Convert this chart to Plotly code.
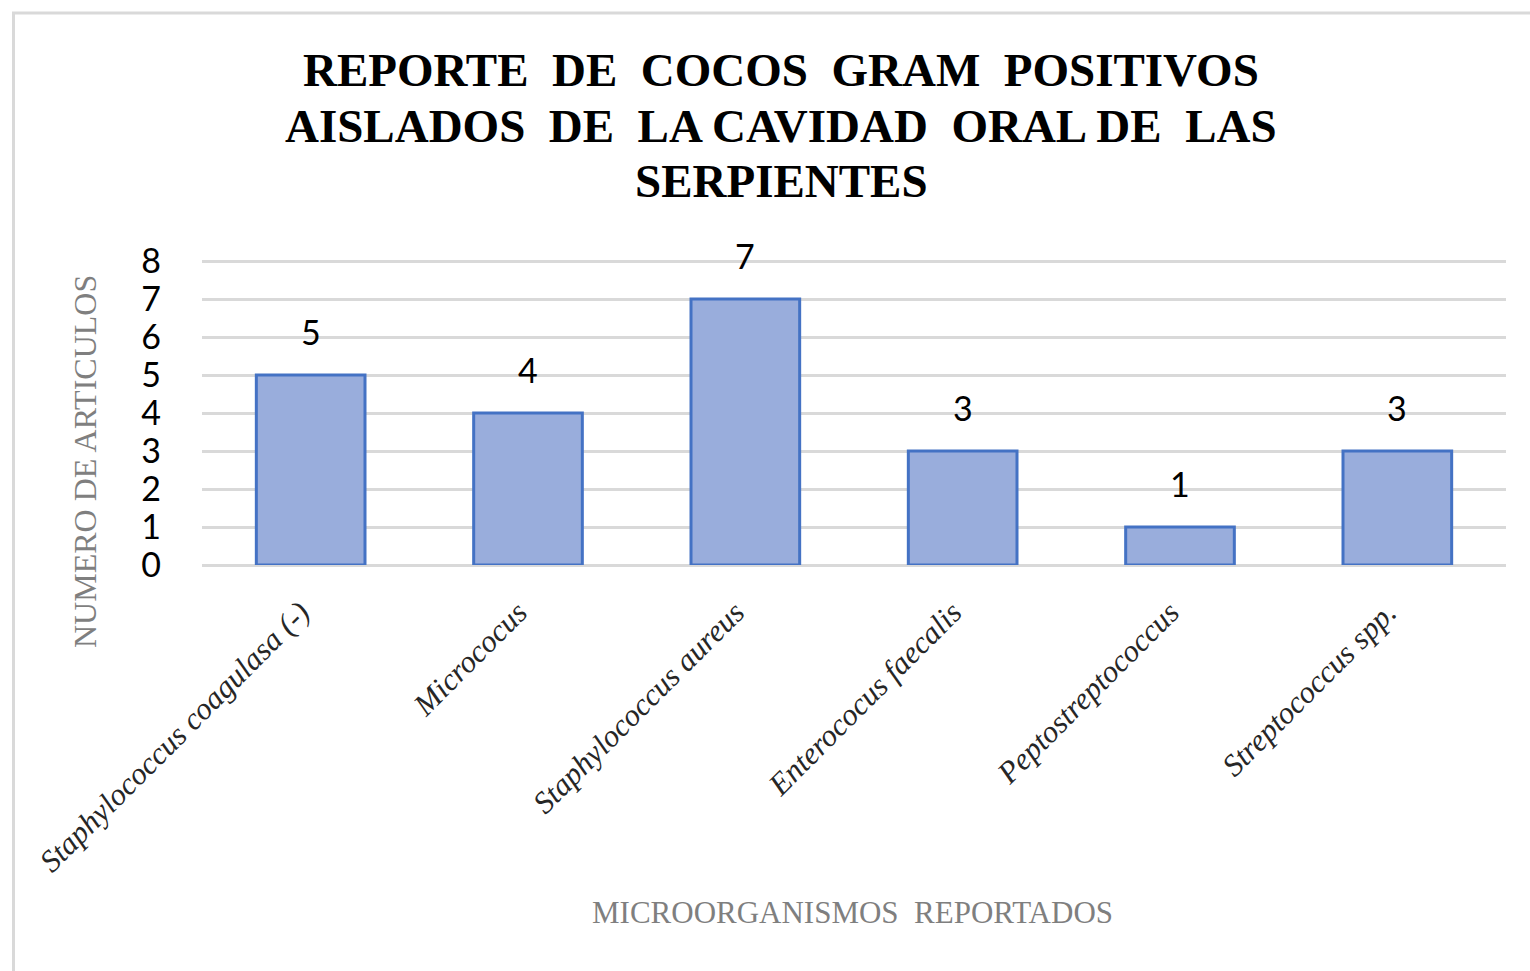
import plotly.graph_objects as go

categories = [
    "Staphylococcus coagulasa (-)",
    "Micrococus",
    "Staphylococcus aureus",
    "Enterococus faecalis",
    "Peptostreptococcus",
    "Streptococcus spp.",
]
counts = [5, 4, 7, 3, 1, 3]
y_ticks = [0, 1, 2, 3, 4, 5, 6, 7, 8]

title_lines = [
    "REPORTE  DE  COCOS  GRAM  POSITIVOS",
    "AISLADOS  DE  LA CAVIDAD  ORAL DE  LAS",
    "SERPIENTES",
]
y_title = "NUMERO DE ARTICULOS"
x_title = "MICROORGANISMOS  REPORTADOS"

W, H = 1530, 971
L, R, T, B = 202, 24, 260, 406
PW = W - L - R
PH = H - T - B


def px2x(px):
    return (px - L) / PW


def py2y(py):
    return (H - B - py) / PH


SERIF = "Liberation Serif"
SANS = "Lato"

fig = go.Figure()
fig.add_trace(
    go.Bar(
        x=categories,
        y=counts,
        marker=dict(color="#99addc", line=dict(color="#4472c4", width=3)),
        hoverinfo="skip",
    )
)

annotations = []
for c, v in zip(categories, counts):
    annotations.append(
        dict(
            x=c, y=v, xref="x", yref="y", text=str(v), showarrow=False,
            yanchor="middle", yshift=44,
            font=dict(family=SANS, size=34, color="#000000"),
        )
    )

title_y = [70, 126, 181]
for line, py in zip(title_lines, title_y):
    annotations.append(
        dict(
            x=px2x(781), y=py2y(py), xref="paper", yref="paper", text="<b>%s</b>" % line,
            showarrow=False, xanchor="center", yanchor="middle",
            font=dict(family=SERIF, size=47, color="#000000"),
        )
    )

annotations.append(
    dict(
        x=px2x(85), y=py2y(462), xref="paper", yref="paper", text=y_title,
        showarrow=False, xanchor="center", yanchor="middle", textangle=-90,
        font=dict(family=SERIF, size=32, color="#7f7f7f"),
    )
)
annotations.append(
    dict(
        x=px2x(852), y=py2y(912), xref="paper", yref="paper", text=x_title,
        showarrow=False, xanchor="center", yanchor="middle",
        font=dict(family=SERIF, size=31, color="#7f7f7f"),
    )
)

fig.update_layout(
    width=W,
    height=H,
    margin=dict(l=L, r=R, t=T, b=B, autoexpand=False),
    paper_bgcolor="#ffffff",
    plot_bgcolor="#ffffff",
    bargap=0.5,
    showlegend=False,
    annotations=annotations,
    shapes=[
        dict(
            type="rect", xref="paper", yref="paper",
            x0=px2x(13.5), x1=px2x(1560), y0=py2y(1000), y1=py2y(13),
            line=dict(color="#d9d9d9", width=3), fillcolor="rgba(0,0,0,0)", layer="below",
        )
    ],
    xaxis=dict(
        showgrid=False,
        showline=False,
        zeroline=False,
        tickangle=-45,
        tickfont=dict(family=SERIF, size=31, color="#262626", style="italic"),
        ticks="",
        ticklabelstandoff=22,
        ticklabelshift=-10,
    ),
    yaxis=dict(
        range=[0, 8.03],
        tickvals=y_ticks,
        showgrid=True,
        gridcolor="#d9d9d9",
        gridwidth=3,
        zeroline=True,
        zerolinecolor="#d9d9d9",
        zerolinewidth=3,
        showline=False,
        ticks="",
        tickfont=dict(family=SANS, size=34, color="#000000"),
        ticklabelstandoff=40,
    ),
)

fig.write_html(
    "out.html",
    config={"displayModeBar": False},
    post_script="document.body.style.margin='0';",
)
